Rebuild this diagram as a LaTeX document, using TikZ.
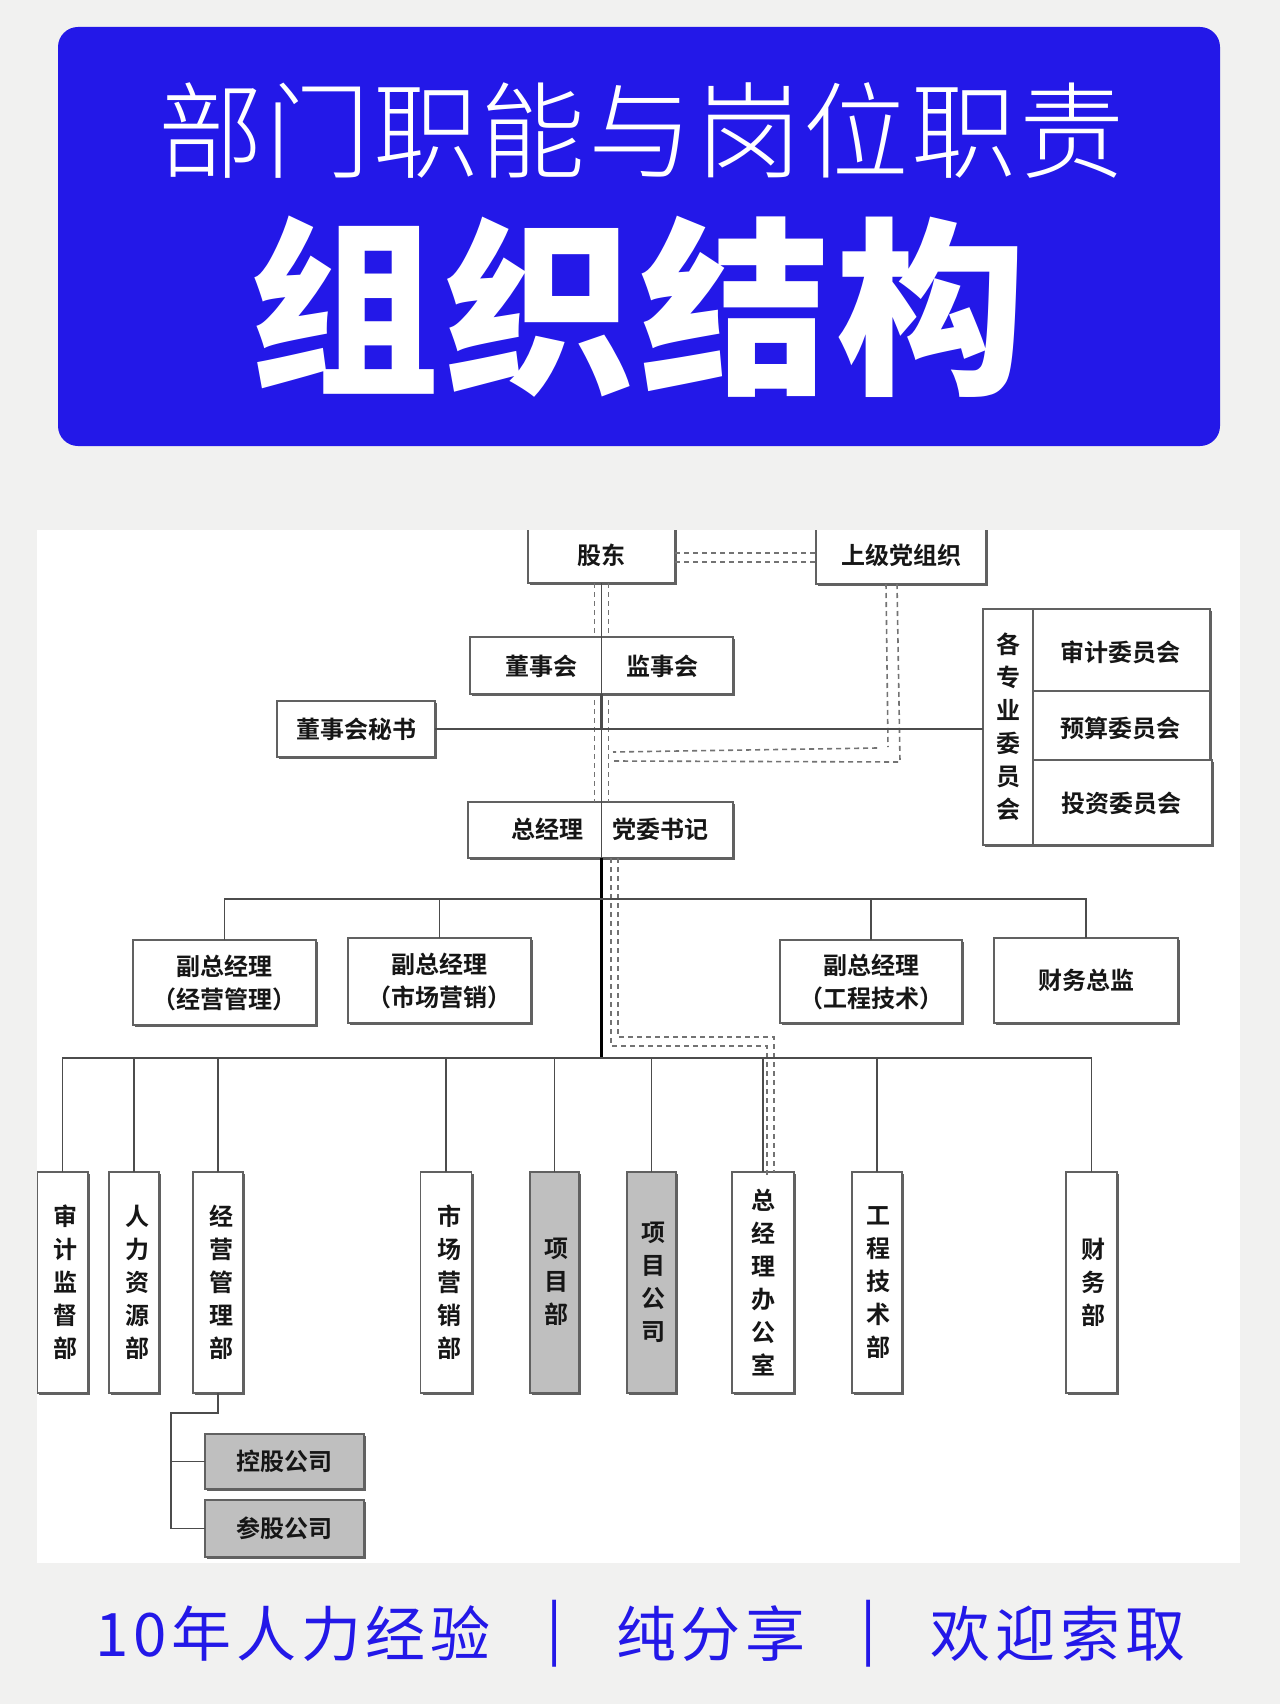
\documentclass[tikz,border=0pt]{standalone}
\usepackage{fontspec}
\usetikzlibrary{shadows}
\setmainfont{Noto Sans CJK SC}
\newfontfamily\cjkb[UprightFont=* Bold]{Noto Sans CJK SC}
\newfontfamily\cjkh[UprightFont=* Black,LetterSpace=3]{Noto Sans CJK SC}
\newfontfamily\cjkl[UprightFont=* Light,LetterSpace=2.5]{Noto Sans CJK SC}
\newfontfamily\cjkf[LetterSpace=8]{Noto Sans CJK SC}
\definecolor{paper}{RGB}{241,241,240}
\definecolor{banner}{RGB}{35,24,232}
\definecolor{ink}{RGB}{22,22,22}
\tikzset{
  orgbox/.style={rectangle,draw=black!62,line width=1.5pt,fill=white,inner sep=0pt,outer sep=0pt,
    copy shadow={shadow xshift=2pt,shadow yshift=-2pt,draw=none,fill=black!62},
    text=ink,align=center,font=\cjkb\fontsize{24}{33}\selectfont},
  greybox/.style={orgbox,fill=black!25},
  lbl/.style={inner sep=0pt,text=ink,align=center,font=\cjkb\fontsize{24}{33}\selectfont},
  wire/.style={draw=black!70,line width=1.6pt},
  trunk/.style={draw=black,line width=3pt},
  dashpair/.style={draw=black!55,line width=1.6pt,dash pattern=on 5pt off 4pt},
  footer/.style={inner sep=0pt,text=banner,font=\cjkf\fontsize{60}{62}\selectfont},
}
\begin{document}
\begin{tikzpicture}[x=1pt,y=-1pt]
\useasboundingbox (0,0) rectangle (1280,1704);
\fill[paper] (0,0) rectangle (1280,1704);
\fill[banner,rounded corners=20pt] (58,27) rectangle (1220,446);
\node[inner sep=0pt,text=white,font=\cjkl\fontsize{105}{110}\selectfont] (title1) at (641,130) {部门职能与岗位职责};
\node[inner sep=0pt,text=white,font=\cjkh\fontsize{190}{200}\selectfont] (title2) at (638,307) {组织结构};
\fill[white] (37,530) rectangle (1240,1563);
\begin{scope}
\clip (37,530) rectangle (1240,1563);
\coordinate (hubA) at (601,899);
\coordinate (hubB) at (601,1058);
\coordinate (dk1) at (611,1046);
\coordinate (dk2) at (618,1037);
\coordinate (pk1) at (888,747);
\coordinate (pk2) at (877,748);
\coordinate (pk3) at (613,752);
\coordinate (pk4) at (900,762);
\coordinate (pk5) at (613,761);
\coordinate (subbus) at (171,1413);
\node[orgbox,minimum width=147pt,minimum height=56pt] (gudong) at (601.5,555) {股东};
\node[orgbox,minimum width=170pt,minimum height=57pt] (party) at (901,555.5) {上级党组织};
\node[orgbox,minimum width=265pt,minimum height=56pt] (zjlbox) at (600.5,830) {};
% dashed pairs
\draw[dashpair] ([xshift=-7pt]gudong.south) -- ([xshift=-7pt]gudong.south |- zjlbox.north);
\draw[dashpair] ([xshift=7pt]gudong.south) -- ([xshift=7pt]gudong.south |- zjlbox.north);
\draw[dashpair] ([yshift=2pt]gudong.east) -- ([yshift=2pt]gudong.east -| party.west);
\draw[dashpair] ([yshift=-7pt]gudong.east) -- ([yshift=-7pt]gudong.east -| party.west);
\draw[dashpair] ([xshift=-15pt]party.south) -- (pk1);
\draw[dashpair] (pk2) -- (pk3);
\draw[dashpair] ([xshift=-4pt]party.south) -- (pk4) -- (pk5);
% upper boxes
\node[orgbox,minimum width=263pt,minimum height=57pt] (board) at (601.5,665.5) {};
\node[lbl] (boardL) at (541,666) {董事会};
\node[lbl] (boardR) at (662,666) {监事会};
\node[orgbox,minimum width=158pt,minimum height=56pt] (sec) at (356,729) {董事会秘书};
\node[lbl] (zjl) at (547,829) {总经理};
\node[lbl] (dw) at (660,829) {党委书记};
\node[orgbox,minimum width=50pt,minimum height=236pt] (comm) at (1008,727) {各\\专\\业\\委\\员\\会};
\node[orgbox,minimum width=177pt,minimum height=82pt] (c1) at (1121.5,650) {};
\node[lbl] (c1t) at (1120,652) {审计委员会};
\node[orgbox,minimum width=177pt,minimum height=69pt] (c2) at (1121.5,725.5) {};
\node[lbl] (c2t) at (1120,728) {预算委员会};
\node[orgbox,minimum width=179pt,minimum height=85pt] (c3) at (1122.5,802.5) {};
\node[lbl] (c3t) at (1121,803) {投资委员会};
% vice presidents
\node[orgbox,minimum width=183pt,minimum height=85pt] (vp1) at (224.5,982.5) {副总经理\\（经营管理）};
\node[orgbox,minimum width=183pt,minimum height=85pt] (vp2) at (439.5,980.5) {副总经理\\（市场营销）};
\node[orgbox,minimum width=182pt,minimum height=83pt] (vp3) at (871,981.5) {副总经理\\（工程技术）};
\node[orgbox,minimum width=184pt,minimum height=85pt] (vp4) at (1086,980.5) {财务总监};
% departments
\node[orgbox,minimum width=51pt,minimum height=221pt] (d1) at (62.5,1282.5) {};
\node[lbl] (d1t) at (65,1282.5) {审\\计\\监\\督\\部};
\node[orgbox,minimum width=50pt,minimum height=221pt] (d2) at (134,1282.5) {};
\node[lbl] (d2t) at (137,1282.5) {人\\力\\资\\源\\部};
\node[orgbox,minimum width=50pt,minimum height=221pt] (d3) at (218,1282.5) {};
\node[lbl] (d3t) at (221,1282.5) {经\\营\\管\\理\\部};
\node[orgbox,minimum width=51pt,minimum height=221pt] (d4) at (446,1282.5) {};
\node[lbl] (d4t) at (449,1282.5) {市\\场\\营\\销\\部};
\node[greybox,minimum width=49pt,minimum height=221pt] (d5) at (554.5,1282.5) {};
\node[lbl] (d5t) at (556.5,1282) {项\\目\\部};
\node[greybox,minimum width=49pt,minimum height=221pt] (d6) at (651.5,1282.5) {};
\node[lbl] (d6t) at (653.5,1282) {项\\目\\公\\司};
\node[orgbox,minimum width=62pt,minimum height=221pt] (d7) at (763,1282.5) {总\\经\\理\\办\\公\\室};
\node[orgbox,minimum width=50pt,minimum height=221pt] (d8) at (877,1282.5) {};
\node[lbl] (d8t) at (878.5,1282.5) {工\\程\\技\\术\\部};
\node[orgbox,minimum width=51pt,minimum height=221pt] (d9) at (1091.5,1282.5) {};
\node[lbl] (d9t) at (1093.5,1282) {财\\务\\部};
\node[greybox,minimum width=159pt,minimum height=55pt] (s1) at (284.5,1461.5) {控股公司};
\node[greybox,minimum width=159pt,minimum height=57pt] (s2) at (284.5,1528.5) {参股公司};
% dashed from general manager to office
\draw[dashpair] ([xshift=10.5pt]zjlbox.south) -- (dk1) -- ([xshift=4pt]d7.north |- dk1) -- ([xshift=4pt,yshift=-3pt]d7.north);
\draw[dashpair] ([xshift=17.5pt]zjlbox.south) -- (dk2) -- ([xshift=11pt]d7.north |- dk2) -- ([xshift=11pt]d7.north);
% solid connectors
\draw[wire] (gudong.south) -- (gudong.south |- zjlbox.south);
\draw[wire,line width=2.2pt] (gudong.south |- board.south) -- (gudong.south |- sec.east);
\draw[wire] (sec.east) -- (sec.east -| comm.west);
\draw[trunk] (hubA |- zjlbox.south) -- (hubB);
\draw[wire] (vp1.north) |- (hubA);
\draw[wire] (vp2.north) |- (hubA);
\draw[wire] (vp3.north) |- (hubA);
\draw[wire] (vp4.north) |- (hubA);
\draw[wire] (d1.north) |- (hubB);
\draw[wire] (d2.north) |- (hubB);
\draw[wire] (d3.north) |- (hubB);
\draw[wire] (d4.north) |- (hubB);
\draw[wire] (d5.north) |- (hubB);
\draw[wire] (d6.north) |- (hubB);
\draw[wire] (d7.north) |- (hubB);
\draw[wire] (d8.north) |- (hubB);
\draw[wire] (d9.north) |- (hubB);
\draw[wire] (d3.south) |- (subbus) |- (s2.west);
\draw[wire] (subbus) |- (s1.west);
\end{scope}
% footer
\node[footer] (f1) at (293,1634) {10年人力经验};
\node[footer] (b1) at (555,1634) {|};
\node[footer] (f2) at (711,1634) {纯分享};
\node[footer] (b2) at (869,1634) {|};
\node[footer] (f3) at (1058,1634) {欢迎索取};
\end{tikzpicture}
\end{document}
